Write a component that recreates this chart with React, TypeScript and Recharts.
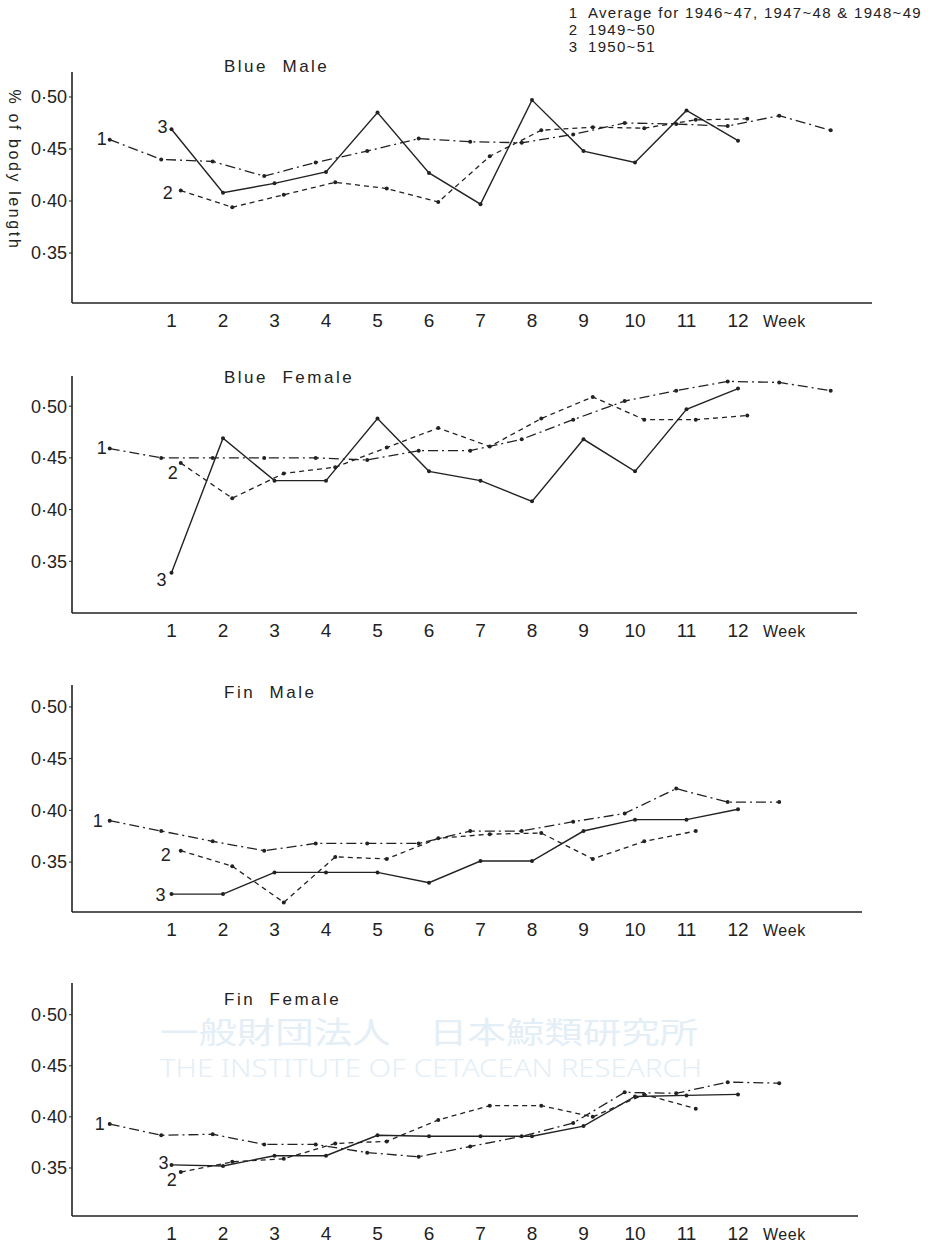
import React from 'react';
import { LineChart, Line, XAxis, YAxis } from 'recharts';

// ---------- data ----------
const weeksAvgBlue = [0, 1, 2, 3, 4, 5, 6, 7, 8, 9, 10, 11, 12, 13, 14];
const weeksAvgFin = [0, 1, 2, 3, 4, 5, 6, 7, 8, 9, 10, 11, 12, 13];
const weeks12 = [1, 2, 3, 4, 5, 6, 7, 8, 9, 10, 11, 12];
const weeks11 = [1, 2, 3, 4, 5, 6, 7, 8, 9, 10, 11];
const weekTicks = [1, 2, 3, 4, 5, 6, 7, 8, 9, 10, 11, 12];
const yTicks = [0.35, 0.4, 0.45, 0.5];

const seriesNames = ['1', '2', '3'];
const legendLines = [
  'Average for 1946~47, 1947~48 & 1948~49',
  '1949~50',
  '1950~51',
];
const panelTitles = ['Blue  Male', 'Blue  Female', 'Fin  Male', 'Fin  Female'];
const yLabel = '% of body length';

const blueMaleAvg = [0.459, 0.44, 0.438, 0.424, 0.437, 0.448, 0.46, 0.457, 0.456, 0.464, 0.475, 0.474, 0.472, 0.482, 0.468];
const blueMale4950 = [0.41, 0.394, 0.406, 0.418, 0.412, 0.399, 0.443, 0.468, 0.471, 0.47, 0.478, 0.479];
const blueMale5051 = [0.469, 0.408, 0.417, 0.428, 0.485, 0.427, 0.397, 0.497, 0.448, 0.437, 0.487, 0.458];

const blueFemaleAvg = [0.459, 0.45, 0.45, 0.45, 0.45, 0.448, 0.457, 0.457, 0.468, 0.487, 0.505, 0.515, 0.524, 0.523, 0.515];
const blueFemale4950 = [0.445, 0.411, 0.435, 0.441, 0.46, 0.479, 0.461, 0.488, 0.509, 0.487, 0.487, 0.491];
const blueFemale5051 = [0.339, 0.469, 0.428, 0.428, 0.488, 0.437, 0.428, 0.408, 0.468, 0.437, 0.497, 0.517];

const finMaleAvg = [0.39, 0.38, 0.37, 0.361, 0.368, 0.368, 0.368, 0.38, 0.38, 0.389, 0.397, 0.421, 0.408, 0.408];
const finMale4950 = [0.361, 0.346, 0.311, 0.355, 0.353, 0.373, 0.377, 0.378, 0.353, 0.37, 0.38];
const finMale5051 = [0.319, 0.319, 0.34, 0.34, 0.34, 0.33, 0.351, 0.351, 0.38, 0.391, 0.391, 0.401];

const finFemaleAvg = [0.393, 0.382, 0.383, 0.373, 0.373, 0.365, 0.361, 0.371, 0.381, 0.394, 0.424, 0.423, 0.434, 0.433];
const finFemale4950 = [0.346, 0.356, 0.359, 0.374, 0.376, 0.397, 0.411, 0.411, 0.4, 0.422, 0.408];
const finFemale5051 = [0.353, 0.352, 0.362, 0.362, 0.382, 0.381, 0.381, 0.381, 0.391, 0.42, 0.421, 0.422];

// ---------- layout / style ----------
const FONT = 'Liberation Sans, Arial, sans-serif';
const INK = '#222';
const X0 = 120; // pixel of week 0
const PXW = 51.5; // pixels per week
const AXIS_X = 72;
const OFFSETS = [-0.2, 0.18, 0];
const DASHES = ['10 4 2 4', '5 4', undefined];

type Panel = {
  title: string;
  top: number;
  bottom: number;
  right: number;
  yMin: number;
  yMax: number;
  titleY: number;
  weeks: number[][];
  values: number[][];
  labelOff: [number, number][];
};

const panels: Panel[] = [
  {
    title: panelTitles[0], top: 72, bottom: 303, right: 872, yMin: 0.302, yMax: 0.524, titleY: 66,
    weeks: [weeksAvgBlue, weeks12, weeks12],
    values: [blueMaleAvg, blueMale4950, blueMale5051],
    labelOff: [[-8, -1], [-13, 2], [-9, -2]],
  },
  {
    title: panelTitles[1], top: 376, bottom: 613, right: 857, yMin: 0.3, yMax: 0.5292, titleY: 377,
    weeks: [weeksAvgBlue, weeks12, weeks12],
    values: [blueFemaleAvg, blueFemale4950, blueFemale5051],
    labelOff: [[-8, -1], [-8, 10], [-10, 7]],
  },
  {
    title: panelTitles[2], top: 685, bottom: 912, right: 862, yMin: 0.3017, yMax: 0.5212, titleY: 692,
    weeks: [weeksAvgFin, weeks11, weeks12],
    values: [finMaleAvg, finMale4950, finMale5051],
    labelOff: [[-12, 0], [-15, 4], [-11, 1]],
  },
  {
    title: panelTitles[3], top: 983, bottom: 1216, right: 858, yMin: 0.303, yMax: 0.531, titleY: 999,
    weeks: [weeksAvgFin, weeks11, weeks12],
    values: [finFemaleAvg, finFemale4950, finFemale5051],
    labelOff: [[-10, 0], [-9, 8], [-8, -2]],
  },
];

const mk = (weeks: number[], vals: number[], off: number) =>
  weeks.map((w, i) => ({ x: w + off, v: vals[i] }));

const fmtY = (v: number) => v.toFixed(2).replace('.', '\u00b7');

const XTick = (props: any) => {
  const { x, y, payload } = props;
  const isWeek = payload.value > 12.5;
  return (
    <text
      x={x}
      y={y + 16}
      textAnchor="middle"
      fontSize={isWeek ? 16 : 19}
      fill={INK}
      fontFamily={FONT}
      letterSpacing={isWeek ? 0.5 : 0}
    >
      {isWeek ? 'Week' : String(payload.value)}
    </text>
  );
};

const makeDot = (label: string, dx: number, dy: number) => (p: any) => {
  const { cx, cy, index } = p;
  return (
    <g key={`dot-${label}-${index}`}>
      <circle cx={cx} cy={cy} r={2} fill={INK} />
      {index === 0 ? (
        <text
          x={cx + dx}
          y={cy + dy}
          textAnchor="middle"
          dominantBaseline="central"
          fontSize={18}
          fill={INK}
          fontFamily={FONT}
        >
          {label}
        </text>
      ) : null}
    </g>
  );
};

const PanelChart = ({ p }: { p: Panel }) => {
  const mTop = 10;
  const xAxisH = 30;
  const mBottom = 5;
  const width = p.right + 10;
  const height = p.bottom - p.top + mTop + xAxisH + mBottom;
  const xMin = (AXIS_X - X0) / PXW;
  const xMax = (p.right - X0) / PXW;
  return (
    <div style={{ position: 'absolute', left: 0, top: p.top - mTop }}>
      <LineChart
        width={width}
        height={height}
        margin={{ top: mTop, right: 10, bottom: mBottom, left: 0 }}
      >
        <XAxis
          type="number"
          dataKey="x"
          domain={[xMin, xMax]}
          allowDataOverflow
          ticks={[...weekTicks, 12.9]}
          interval={0}
          tick={<XTick />}
          tickLine={false}
          height={xAxisH}
          axisLine={{ stroke: INK, strokeWidth: 1.6 }}
        />
        <YAxis
          type="number"
          domain={[p.yMin, p.yMax]}
          allowDataOverflow
          ticks={yTicks}
          interval={0}
          width={AXIS_X}
          tickFormatter={fmtY}
          tickSize={3}
          tickMargin={2}
          tickLine={{ stroke: INK }}
          axisLine={{ stroke: INK, strokeWidth: 1.6 }}
          tick={{ fontSize: 18, fill: INK, fontFamily: FONT }}
        />
        {p.values.map((vals, s) => (
          <Line
            key={s}
            data={mk(p.weeks[s], vals, OFFSETS[s])}
            dataKey="v"
            type="linear"
            stroke={INK}
            strokeWidth={s === 2 ? 1.4 : 1.3}
            strokeDasharray={DASHES[s]}
            dot={makeDot(seriesNames[s], p.labelOff[s][0], p.labelOff[s][1])}
            activeDot={false}
            isAnimationActive={false}
          />
        ))}
      </LineChart>
    </div>
  );
};

export default function App() {
  return (
    <div
      style={{
        position: 'absolute',
        left: 0,
        top: 0,
        width: 936,
        height: 1247,
        background: '#fff',
        overflow: 'hidden',
        fontFamily: FONT,
      }}
    >
      {/* faint watermark */}
      <svg width={936} height={1247} style={{ position: 'absolute', left: 0, top: 0 }}>
        <text
          x={160}
          y={1043}
          fontSize={30}
          fill="#e4eef6"
          fontFamily="Noto Sans CJK JP"
          textLength={538}
          lengthAdjust="spacingAndGlyphs"
        >
          一般財団法人　日本鯨類研究所
        </text>
        <text
          x={160}
          y={1077}
          fontSize={25}
          fill="#e4eef6"
          fontFamily="Noto Sans, sans-serif"
          fontWeight={300}
          textLength={542}
          lengthAdjust="spacingAndGlyphs"
        >
          THE INSTITUTE OF CETACEAN RESEARCH
        </text>
      </svg>

      {panels.map((p, i) => (
        <PanelChart key={i} p={p} />
      ))}

      <svg
        width={936}
        height={1247}
        style={{ position: 'absolute', left: 0, top: 0, pointerEvents: 'none' }}
      >
        {legendLines.map((t, i) => (
          <g key={i}>
            <text x={573} y={12 + i * 17} dominantBaseline="central" fontSize={15} fill={INK} textAnchor="middle">
              {seriesNames[i]}
            </text>
            <text x={588} y={12 + i * 17} dominantBaseline="central" fontSize={15} fill={INK} letterSpacing={1.3}>
              {t}
            </text>
          </g>
        ))}
        {panels.map((p, i) => (
          <text
            key={i}
            x={224}
            y={p.titleY}
            dominantBaseline="central"
            fontSize={17}
            fill={INK}
            letterSpacing={2.5}
            style={{ whiteSpace: 'pre' }}
          >
            {p.title}
          </text>
        ))}
        <text
          transform="translate(14,170) rotate(90)"
          textAnchor="middle"
          dominantBaseline="central"
          fontSize={16}
          fill={INK}
          letterSpacing={2.6}
        >
          {yLabel}
        </text>
      </svg>
    </div>
  );
}
